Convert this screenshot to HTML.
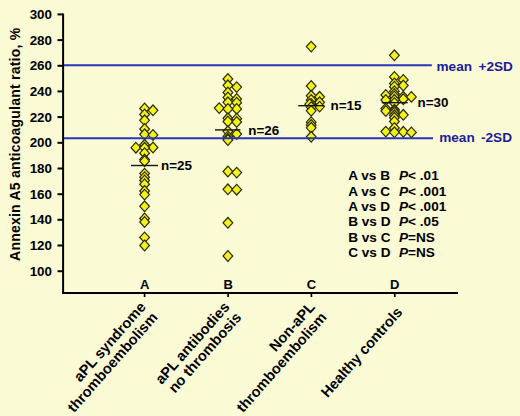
<!DOCTYPE html>
<html><head><meta charset="utf-8"><style>
html,body{margin:0;padding:0;background:#FAFAD4;}
svg{display:block;font-family:"Liberation Sans",sans-serif;font-weight:bold;font-size:13px;}
</style></head><body>
<svg width="520" height="416" viewBox="0 0 520 416">
<rect width="520" height="416" fill="#FAFAD4"/>
<g fill="#F2F418" stroke="#2E2A00" stroke-width="1.2">
<path d="M144.60 103.20L149.45 108.50L144.60 113.80L139.75 108.50Z"/>
<path d="M153.00 105.00L157.85 110.30L153.00 115.60L148.15 110.30Z"/>
<path d="M144.60 109.20L149.45 114.50L144.60 119.80L139.75 114.50Z"/>
<path d="M144.60 115.00L149.45 120.30L144.60 125.60L139.75 120.30Z"/>
<path d="M144.60 123.70L149.45 129.00L144.60 134.30L139.75 129.00Z"/>
<path d="M144.60 129.00L149.45 134.30L144.60 139.60L139.75 134.30Z"/>
<path d="M153.00 129.70L157.85 135.00L153.00 140.30L148.15 135.00Z"/>
<path d="M144.60 139.50L149.45 144.80L144.60 150.10L139.75 144.80Z"/>
<path d="M153.00 142.20L157.85 147.50L153.00 152.80L148.15 147.50Z"/>
<path d="M135.90 142.40L140.75 147.70L135.90 153.00L131.05 147.70Z"/>
<path d="M144.60 142.50L149.45 147.80L144.60 153.10L139.75 147.80Z"/>
<path d="M144.60 147.90L149.45 153.20L144.60 158.50L139.75 153.20Z"/>
<path d="M144.60 154.20L149.45 159.50L144.60 164.80L139.75 159.50Z"/>
<path d="M144.60 155.90L149.45 161.20L144.60 166.50L139.75 161.20Z"/>
<path d="M144.60 168.30L149.45 173.60L144.60 178.90L139.75 173.60Z"/>
<path d="M144.60 171.90L149.45 177.20L144.60 182.50L139.75 177.20Z"/>
<path d="M144.60 175.20L149.45 180.50L144.60 185.80L139.75 180.50Z"/>
<path d="M144.60 178.90L149.45 184.20L144.60 189.50L139.75 184.20Z"/>
<path d="M144.60 185.70L149.45 191.00L144.60 196.30L139.75 191.00Z"/>
<path d="M144.60 189.30L149.45 194.60L144.60 199.90L139.75 194.60Z"/>
<path d="M144.60 201.00L149.45 206.30L144.60 211.60L139.75 206.30Z"/>
<path d="M144.60 213.20L149.45 218.50L144.60 223.80L139.75 218.50Z"/>
<path d="M144.60 216.70L149.45 222.00L144.60 227.30L139.75 222.00Z"/>
<path d="M144.60 232.10L149.45 237.40L144.60 242.70L139.75 237.40Z"/>
<path d="M144.60 240.20L149.45 245.50L144.60 250.80L139.75 245.50Z"/>
<path d="M227.90 73.70L232.75 79.00L227.90 84.30L223.05 79.00Z"/>
<path d="M227.90 80.00L232.75 85.30L227.90 90.60L223.05 85.30Z"/>
<path d="M236.70 81.80L241.55 87.10L236.70 92.40L231.85 87.10Z"/>
<path d="M227.90 87.20L232.75 92.50L227.90 97.80L223.05 92.50Z"/>
<path d="M227.90 92.10L232.75 97.40L227.90 102.70L223.05 97.40Z"/>
<path d="M236.70 93.70L241.55 99.00L236.70 104.30L231.85 99.00Z"/>
<path d="M227.90 97.00L232.75 102.30L227.90 107.60L223.05 102.30Z"/>
<path d="M236.70 97.40L241.55 102.70L236.70 108.00L231.85 102.70Z"/>
<path d="M219.20 102.80L224.05 108.10L219.20 113.40L214.35 108.10Z"/>
<path d="M236.70 103.60L241.55 108.90L236.70 114.20L231.85 108.90Z"/>
<path d="M227.90 103.70L232.75 109.00L227.90 114.30L223.05 109.00Z"/>
<path d="M227.90 113.00L232.75 118.30L227.90 123.60L223.05 118.30Z"/>
<path d="M236.70 113.40L241.55 118.70L236.70 124.00L231.85 118.70Z"/>
<path d="M227.90 116.20L232.75 121.50L227.90 126.80L223.05 121.50Z"/>
<path d="M236.70 116.70L241.55 122.00L236.70 127.30L231.85 122.00Z"/>
<path d="M227.90 126.00L232.75 131.30L227.90 136.60L223.05 131.30Z"/>
<path d="M236.70 128.70L241.55 134.00L236.70 139.30L231.85 134.00Z"/>
<path d="M227.90 131.10L232.75 136.40L227.90 141.70L223.05 136.40Z"/>
<path d="M227.90 133.50L232.75 138.80L227.90 144.10L223.05 138.80Z"/>
<path d="M227.90 134.70L232.75 140.00L227.90 145.30L223.05 140.00Z"/>
<path d="M227.90 166.20L232.75 171.50L227.90 176.80L223.05 171.50Z"/>
<path d="M236.70 167.30L241.55 172.60L236.70 177.90L231.85 172.60Z"/>
<path d="M227.90 184.00L232.75 189.30L227.90 194.60L223.05 189.30Z"/>
<path d="M236.70 184.40L241.55 189.70L236.70 195.00L231.85 189.70Z"/>
<path d="M227.90 217.50L232.75 222.80L227.90 228.10L223.05 222.80Z"/>
<path d="M227.90 250.70L232.75 256.00L227.90 261.30L223.05 256.00Z"/>
<path d="M311.20 41.30L316.05 46.60L311.20 51.90L306.35 46.60Z"/>
<path d="M311.20 80.70L316.05 86.00L311.20 91.30L306.35 86.00Z"/>
<path d="M311.20 90.50L316.05 95.80L311.20 101.10L306.35 95.80Z"/>
<path d="M319.60 91.50L324.45 96.80L319.60 102.10L314.75 96.80Z"/>
<path d="M311.20 94.70L316.05 100.00L311.20 105.30L306.35 100.00Z"/>
<path d="M319.60 97.00L324.45 102.30L319.60 107.60L314.75 102.30Z"/>
<path d="M311.20 98.60L316.05 103.90L311.20 109.20L306.35 103.90Z"/>
<path d="M309.70 98.90L314.55 104.20L309.70 109.50L304.85 104.20Z"/>
<path d="M319.60 101.30L324.45 106.60L319.60 111.90L314.75 106.60Z"/>
<path d="M311.20 101.80L316.05 107.10L311.20 112.40L306.35 107.10Z"/>
<path d="M311.20 105.50L316.05 110.80L311.20 116.10L306.35 110.80Z"/>
<path d="M311.20 116.90L316.05 122.20L311.20 127.50L306.35 122.20Z"/>
<path d="M311.20 119.70L316.05 125.00L311.20 130.30L306.35 125.00Z"/>
<path d="M311.20 122.50L316.05 127.80L311.20 133.10L306.35 127.80Z"/>
<path d="M311.20 131.50L316.05 136.80L311.20 142.10L306.35 136.80Z"/>
<path d="M394.40 50.00L399.25 55.30L394.40 60.60L389.55 55.30Z"/>
<path d="M394.40 71.60L399.25 76.90L394.40 82.20L389.55 76.90Z"/>
<path d="M403.30 74.60L408.15 79.90L403.30 85.20L398.45 79.90Z"/>
<path d="M394.40 78.10L399.25 83.40L394.40 88.70L389.55 83.40Z"/>
<path d="M403.30 80.20L408.15 85.50L403.30 90.80L398.45 85.50Z"/>
<path d="M394.40 81.40L399.25 86.70L394.40 92.00L389.55 86.70Z"/>
<path d="M394.40 85.90L399.25 91.20L394.40 96.50L389.55 91.20Z"/>
<path d="M394.40 88.70L399.25 94.00L394.40 99.30L389.55 94.00Z"/>
<path d="M385.80 89.70L390.65 95.00L385.80 100.30L380.95 95.00Z"/>
<path d="M394.40 91.20L399.25 96.50L394.40 101.80L389.55 96.50Z"/>
<path d="M403.30 91.50L408.15 96.80L403.30 102.10L398.45 96.80Z"/>
<path d="M411.40 91.60L416.25 96.90L411.40 102.20L406.55 96.90Z"/>
<path d="M403.30 93.90L408.15 99.20L403.30 104.50L398.45 99.20Z"/>
<path d="M394.40 94.50L399.25 99.80L394.40 105.10L389.55 99.80Z"/>
<path d="M385.80 94.70L390.65 100.00L385.80 105.30L380.95 100.00Z"/>
<path d="M394.40 97.70L399.25 103.00L394.40 108.30L389.55 103.00Z"/>
<path d="M385.80 103.30L390.65 108.60L385.80 113.90L380.95 108.60Z"/>
<path d="M394.40 104.30L399.25 109.60L394.40 114.90L389.55 109.60Z"/>
<path d="M394.40 105.70L399.25 111.00L394.40 116.30L389.55 111.00Z"/>
<path d="M385.80 105.70L390.65 111.00L385.80 116.30L380.95 111.00Z"/>
<path d="M394.40 107.30L399.25 112.60L394.40 117.90L389.55 112.60Z"/>
<path d="M403.30 109.50L408.15 114.80L403.30 120.10L398.45 114.80Z"/>
<path d="M394.40 110.00L399.25 115.30L394.40 120.60L389.55 115.30Z"/>
<path d="M394.40 112.50L399.25 117.80L394.40 123.10L389.55 117.80Z"/>
<path d="M394.40 116.20L399.25 121.50L394.40 126.80L389.55 121.50Z"/>
<path d="M394.40 122.70L399.25 128.00L394.40 133.30L389.55 128.00Z"/>
<path d="M385.80 126.30L390.65 131.60L385.80 136.90L380.95 131.60Z"/>
<path d="M403.30 126.50L408.15 131.80L403.30 137.10L398.45 131.80Z"/>
<path d="M394.40 127.00L399.25 132.30L394.40 137.60L389.55 132.30Z"/>
<path d="M411.40 127.10L416.25 132.40L411.40 137.70L406.55 132.40Z"/>
</g>
<g stroke="#151515" stroke-width="1.4">
<line x1="131" y1="165.5" x2="158" y2="165.5"/>
<line x1="215" y1="129.9" x2="240.4" y2="129.9"/>
<line x1="298.3" y1="105.7" x2="324.4" y2="105.7"/>
<line x1="381.7" y1="102.65" x2="407.7" y2="102.65"/>
</g>
<g stroke="#2836B8" stroke-width="2">
<line x1="64" y1="65.2" x2="431.8" y2="65.2"/>
<line x1="64" y1="138.2" x2="433" y2="138.2"/>
</g>
<g stroke="#000" stroke-width="2">
<line x1="63.1" y1="13.5" x2="63.1" y2="293.8"/>
<line x1="62.1" y1="292.9" x2="458" y2="292.9"/>
<line x1="57.5" y1="14.4" x2="63" y2="14.4"/>
<line x1="57.5" y1="40.1" x2="63" y2="40.1"/>
<line x1="57.5" y1="65.8" x2="63" y2="65.8"/>
<line x1="57.5" y1="91.4" x2="63" y2="91.4"/>
<line x1="57.5" y1="117.1" x2="63" y2="117.1"/>
<line x1="57.5" y1="142.8" x2="63" y2="142.8"/>
<line x1="57.5" y1="168.5" x2="63" y2="168.5"/>
<line x1="57.5" y1="194.2" x2="63" y2="194.2"/>
<line x1="57.5" y1="219.8" x2="63" y2="219.8"/>
<line x1="57.5" y1="245.5" x2="63" y2="245.5"/>
<line x1="57.5" y1="271.2" x2="63" y2="271.2"/>
</g>
<g stroke="#000" stroke-width="1.7">
<line x1="144.6" y1="293" x2="144.6" y2="297"/>
<line x1="228.1" y1="293" x2="228.1" y2="297"/>
<line x1="311.4" y1="293" x2="311.4" y2="297"/>
<line x1="394.8" y1="293" x2="394.8" y2="297"/>
</g>
<g fill="#000">
<g text-anchor="end" font-size="13.4">
<text x="52" y="19.0">300</text>
<text x="52" y="44.7">280</text>
<text x="52" y="70.4">260</text>
<text x="52" y="96.0">240</text>
<text x="52" y="121.7">220</text>
<text x="52" y="147.4">200</text>
<text x="52" y="173.1">180</text>
<text x="52" y="198.8">160</text>
<text x="52" y="224.4">140</text>
<text x="52" y="250.1">120</text>
<text x="52" y="275.8">100</text>
</g>
<text x="144.6" y="289.3" text-anchor="middle">A</text>
<text x="228.1" y="289.3" text-anchor="middle">B</text>
<text x="311.4" y="289.3" text-anchor="middle">C</text>
<text x="394.8" y="289.3" text-anchor="middle">D</text>
<text font-size="13.4" x="161" y="170.2">n=25</text>
<text font-size="13.4" x="248.3" y="134.6">n=26</text>
<text font-size="13.4" x="330.6" y="110.4">n=15</text>
<text font-size="13.4" x="417.6" y="107.4">n=30</text>
<text font-size="13.6" x="348.2" y="180.1">A vs B</text><text font-size="13.6" x="399" y="180.1"><tspan font-style="italic">P</tspan>&lt; .01</text>
<text font-size="13.6" x="348.2" y="195.5">A vs C</text><text font-size="13.6" x="399" y="195.5"><tspan font-style="italic">P</tspan>&lt; .001</text>
<text font-size="13.6" x="348.2" y="211.0">A vs D</text><text font-size="13.6" x="399" y="211.0"><tspan font-style="italic">P</tspan>&lt; .001</text>
<text font-size="13.6" x="348.2" y="226.4">B vs D</text><text font-size="13.6" x="399" y="226.4"><tspan font-style="italic">P</tspan>&lt; .05</text>
<text font-size="13.6" x="348.2" y="241.8">B vs C</text><text font-size="13.6" x="399" y="241.8"><tspan font-style="italic">P</tspan>=NS</text>
<text font-size="13.6" x="348.2" y="257.2">C vs D</text><text font-size="13.6" x="399" y="257.2"><tspan font-style="italic">P</tspan>=NS</text>
<g transform="translate(146.6 307.5) rotate(-48.5)" font-size="14.6"><text x="0" y="0" text-anchor="end">aPL syndrome</text><text x="0" y="15.7" text-anchor="end">thromboembolism</text></g>
<g transform="translate(230.3 307.5) rotate(-48.5)" font-size="14.6"><text x="0" y="0" text-anchor="end">aPL antibodies</text><text x="0" y="15.7" text-anchor="end">no thrombosis</text></g>
<g transform="translate(315.6 307.5) rotate(-48.5)" font-size="14.6"><text x="0" y="0" text-anchor="end">Non-aPL</text><text x="0" y="15.7" text-anchor="end">thromboembolism</text></g>
<g transform="translate(397.3 307.5) rotate(-48.5)" font-size="14.6"><text x="0" y="7.85" text-anchor="end">Healthy controls</text></g>
<text transform="translate(19.8 260.9) rotate(-90)" font-size="14" textLength="233" lengthAdjust="spacing">Annexin A5 anticoagulant ratio, %</text>
</g>
<g fill="#1C1C9C" font-size="13.6">
<text x="436.5" y="71.3">mean</text><text x="478.5" y="71.3">+2SD</text>
<text x="439.2" y="142.3">mean</text><text x="481" y="142.3">-2SD</text>
</g>
</svg>
</body></html>
